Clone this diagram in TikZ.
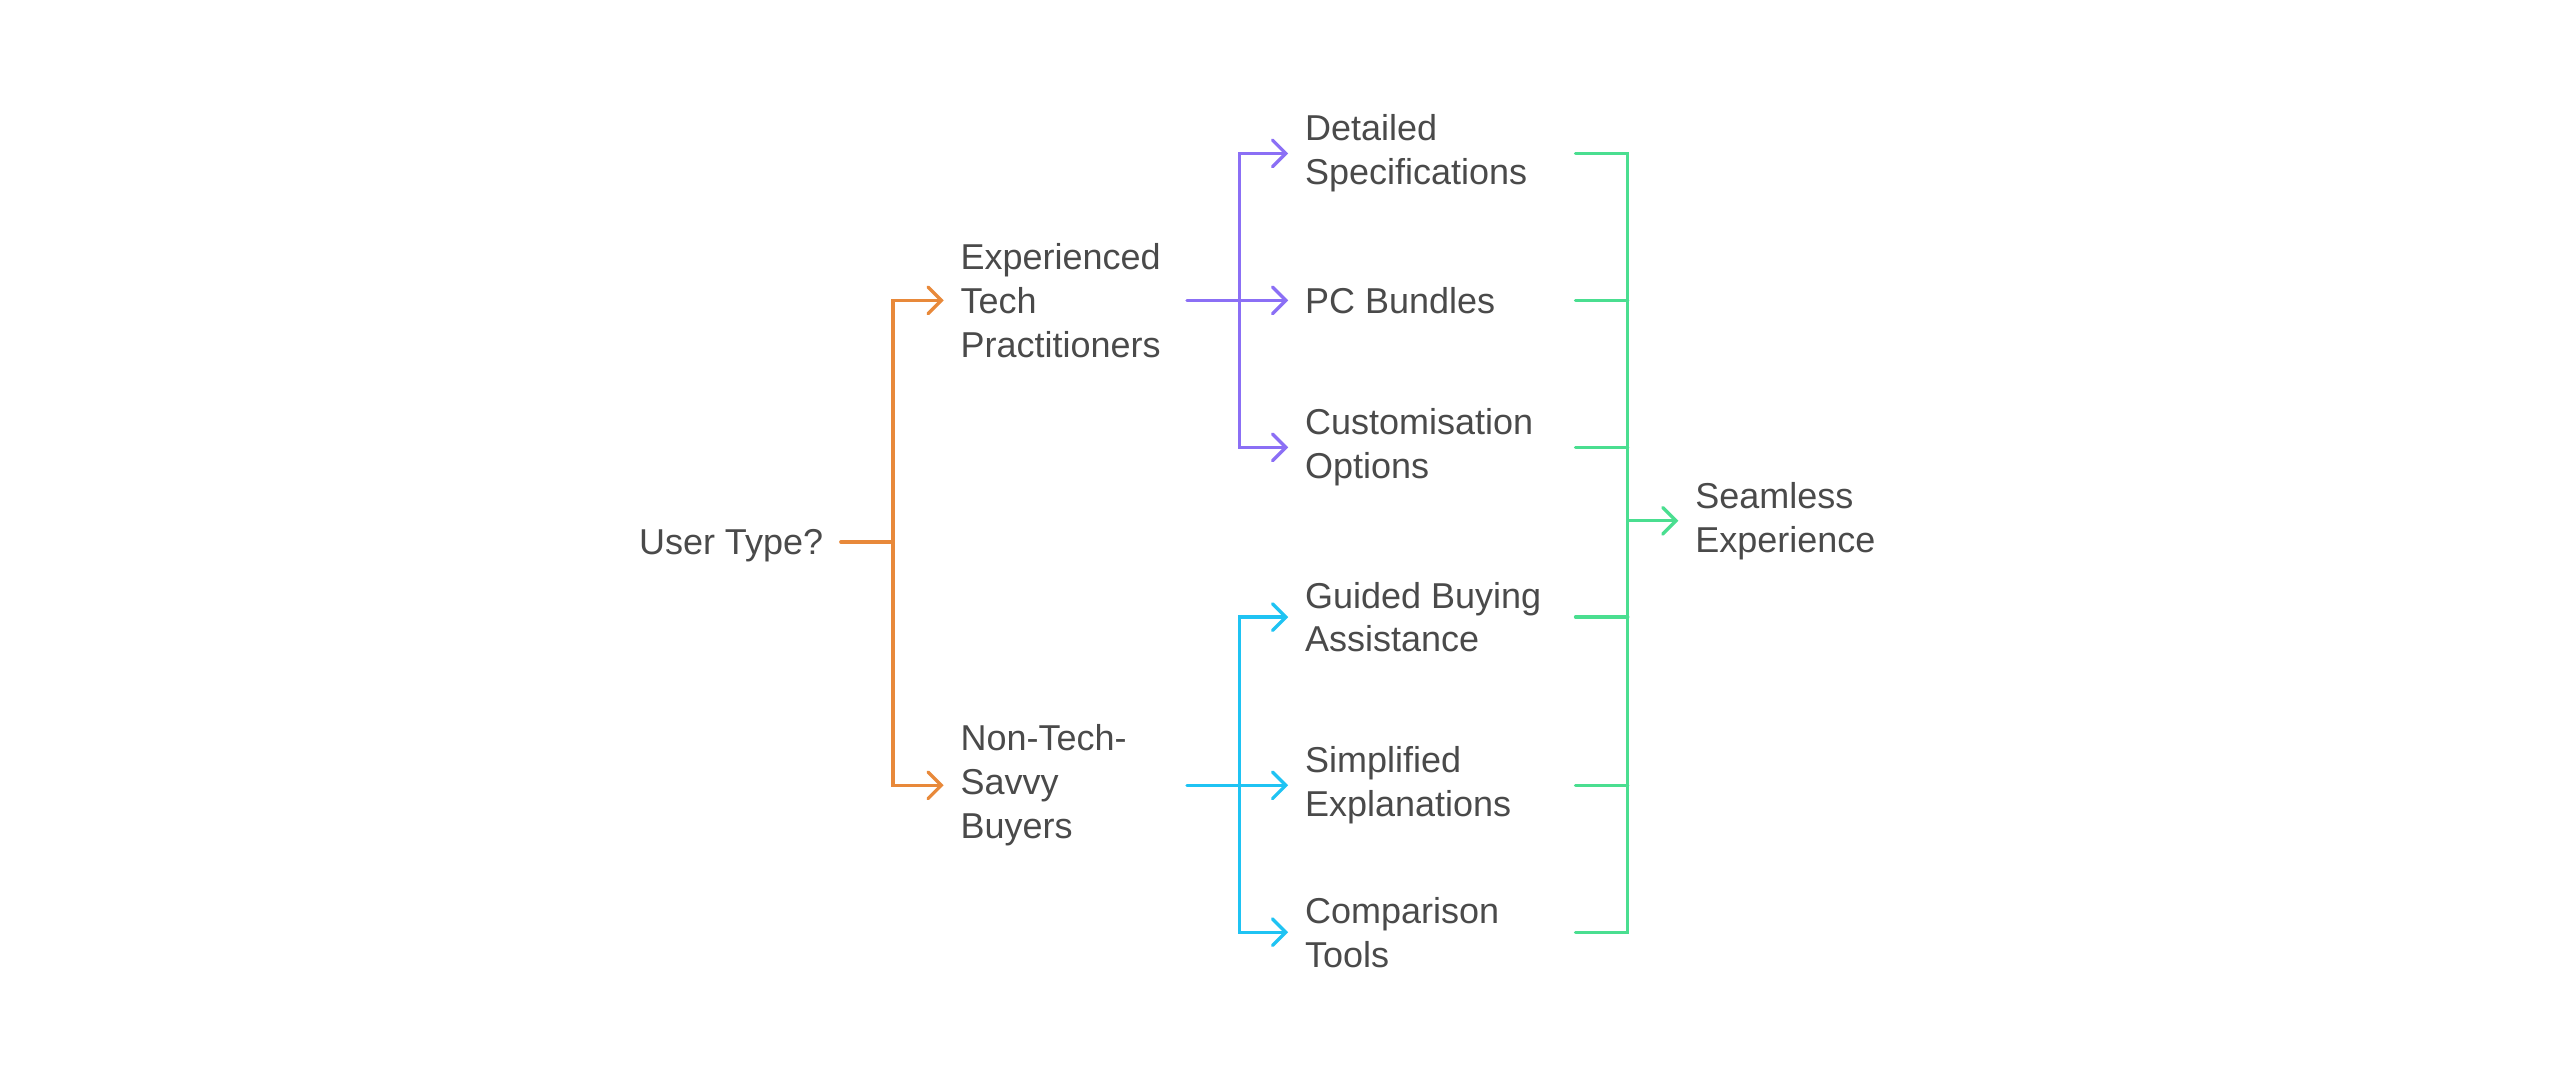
\documentclass[tikz,border=0pt]{standalone}
\usepackage{fontspec}
\setmainfont{Liberation Sans}
\usepackage{tikz}
\usetikzlibrary{arrows.meta}
\definecolor{txtgray}{HTML}{4A4A4A}
\definecolor{orangeln}{HTML}{E8893A}
\definecolor{purpleln}{HTML}{8B6FF5}
\definecolor{cyanln}{HTML}{1FC3F3}
\definecolor{greenln}{HTML}{4ADE90}
\begin{document}
\begin{tikzpicture}[x=0.49pt,y=-0.49pt]
\tikzstyle{every node}+=[inner sep=0pt]
\tikzstyle{lbl}=[anchor=west, align=left, inner xsep=4.9pt, text=txtgray,
  font=\fontsize{10.8}{13.2}\selectfont]
\tikzstyle{link}=[line width=1pt, line cap=round]
\tikzstyle{tip}=[-{Straight Barb[length=4pt,width=8pt,line cap=round]}]
\useasboundingbox (0,0) rectangle (1568,666);
\node[lbl] (ut) at (381,334) {User Type?};
\node[lbl] (etp) at (578,184) {Experienced\\Tech\\Practitioners};
\node[lbl] (ntsb) at (578,481) {Non-Tech-\\Savvy\\Buyers};
\node[lbl] (ds) at (789,94) {Detailed\\Specifications};
\node[lbl] (pcb) at (789,184) {PC Bundles};
\node[lbl] (co) at (789,274) {Customisation\\Options};
\node[lbl] (gba) at (789,378) {Guided Buying\\Assistance};
\node[lbl] (se) at (789,481) {Simplified\\Explanations};
\node[lbl] (ct) at (789,571) {Comparison\\Tools};
\node[lbl] (sx) at (1028,319) {Seamless\\Experience};
\coordinate (ut-out) at (515,332);
\coordinate (ojoin) at (547,332);
\coordinate (etp-out) at (727,184);
\coordinate (pjoin) at (759,184);
\coordinate (ntsb-out) at (727,481);
\coordinate (cjoin) at (759,481);
\coordinate (ds-end) at (965,94);
\coordinate (pcb-end) at (965,184);
\coordinate (co-end) at (965,274);
\coordinate (gba-end) at (965,378);
\coordinate (se-end) at (965,481);
\coordinate (ct-end) at (965,571);
\coordinate (gtop) at (997,94);
\coordinate (gbot) at (997,571);
\coordinate (gmid) at (997,319);
\draw[link, orangeln] (ut-out) -- (ojoin);
\draw[link, tip, orangeln] (ojoin) |- (etp.west);
\draw[link, tip, orangeln] (ojoin) |- (ntsb.west);
\draw[link, purpleln] (etp-out) -- (pjoin);
\foreach \n in {ds,pcb,co}
  \draw[link, tip, purpleln] (pjoin) |- (\n.west);
\draw[link, cyanln] (ntsb-out) -- (cjoin);
\foreach \n in {gba,se,ct}
  \draw[link, tip, cyanln] (cjoin) |- (\n.west);
\draw[link, greenln, line join=miter] (ds-end) -- (gtop) -- (gbot) -- (ct-end);
\foreach \n in {pcb,co,gba,se}
  \draw[link, greenln] (\n-end) -- (\n-end -| gtop);
\draw[link, tip, greenln] (gmid) -- (sx.west);
\end{tikzpicture}
\end{document}
